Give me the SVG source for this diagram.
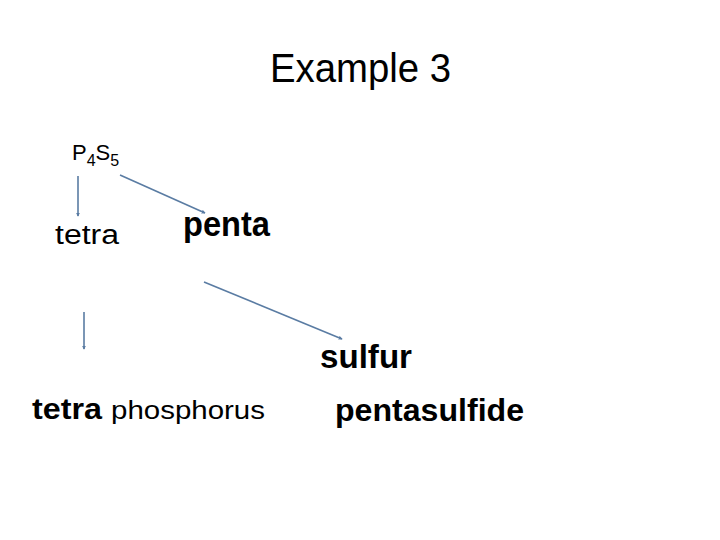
<svg xmlns="http://www.w3.org/2000/svg" width="720" height="540" viewBox="0 0 720 540">
<defs>
<marker id="ah" viewBox="0 0 6 6" refX="5" refY="3" markerWidth="4" markerHeight="4" orient="auto" markerUnits="userSpaceOnUse">
<path d="M0,0 L6,3 L0,6 z" fill="#5a7ca3"/>
</marker>
<style>
text{font-family:"Liberation Sans",Arial,sans-serif;fill:#000}
.b{font-weight:bold}
.c{stroke:#5a7ca3;stroke-width:1.6;fill:none;marker-end:url(#ah)}
</style>
</defs>
<rect width="720" height="540" fill="#fff"/>
<g id="title"><text x="270" y="82" font-size="40" textLength="181" lengthAdjust="spacingAndGlyphs">Example 3</text></g>
<g id="formula"><text x="72" y="160" font-size="22">P<tspan font-size="16" dy="6">4</tspan><tspan dy="-6">S</tspan><tspan font-size="16" dy="6">5</tspan></text></g>
<g id="tetra1"><text x="55" y="244" font-size="27" textLength="64" lengthAdjust="spacingAndGlyphs">tetra</text></g>
<g id="penta1"><text x="183" y="236" font-size="35" class="b" textLength="87" lengthAdjust="spacingAndGlyphs">penta</text></g>
<g id="sulfur"><text x="320" y="368" font-size="34" class="b" textLength="92" lengthAdjust="spacingAndGlyphs">sulfur</text></g>
<g id="tetraphos"><text x="32" y="419" font-size="29" class="b" textLength="70" lengthAdjust="spacingAndGlyphs">tetra</text><text x="111" y="419" font-size="26" textLength="154" lengthAdjust="spacingAndGlyphs">phosphorus</text></g>
<g id="pentasulfide"><text x="335" y="421" font-size="32" class="b" textLength="189" lengthAdjust="spacingAndGlyphs">pentasulfide</text></g>
<g id="connectors">
<line class="c" x1="78" y1="176" x2="78" y2="216"/>
<line class="c" x1="120" y1="175" x2="205" y2="213"/>
<line class="c" x1="204" y1="282" x2="342" y2="339"/>
<line class="c" x1="84" y1="312" x2="84" y2="349"/>
</g>
</svg>
